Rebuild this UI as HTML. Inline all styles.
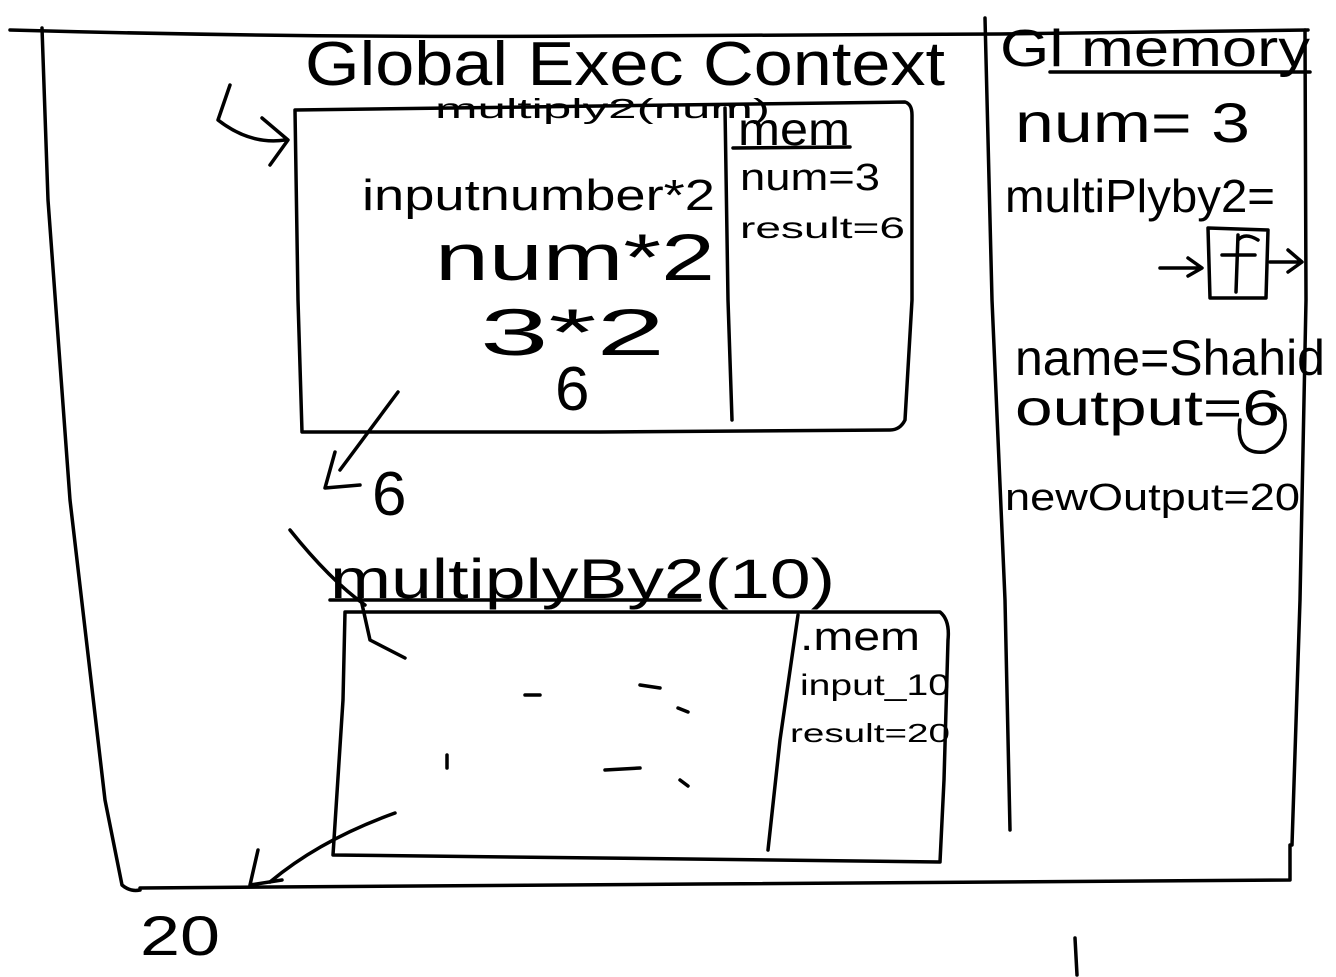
<!DOCTYPE html>
<html><head><meta charset="utf-8">
<style>
html,body{margin:0;padding:0;background:#fff;}
svg{display:block;}
text{font-family:"Liberation Sans",sans-serif;fill:#000;}
</style></head>
<body>
<svg width="1336" height="977" viewBox="0 0 1336 977" xmlns="http://www.w3.org/2000/svg">
<g fill="none" stroke="#000" stroke-width="3.5" stroke-linecap="round" stroke-linejoin="round">
<path d="M10 30 Q300 38 600 36 L1000 34 L1308 30"/>
<path d="M42 28 L48 200 L70 500 L105 800 L122 885 Q130 892 140 890"/>
<path d="M140 888 L700 884 L1290 880 L1290 845"/>
<path d="M1305 30 L1306 300 L1300 600 L1292 845"/>
<path d="M985 18 L992 300 L1005 600 L1010 830"/>
<path d="M295 110 L600 106 L905 102 Q912 104 912 115 L912 300 L905 420 Q900 430 890 430 L600 432 L302 432 L298 300 Z"/>
<path d="M725 108 L728 300 L732 420"/>
<path d="M733 148 L850 147"/>
<path d="M345 612 L600 612 L940 612 Q950 620 948 640 L944 780 L940 862 L600 858 L333 855 L343 700 Z"/>
<path d="M798 615 L780 740 L768 850"/>
<path d="M230 85 L218 120 Q250 145 285 140"/>
<path d="M262 118 L288 140 L270 165"/>
<path d="M398 392 L340 470"/>
<path d="M335 452 L325 488 L360 485"/>
<path d="M290 530 Q330 580 365 605"/>
<path d="M360 595 L370 640 L405 658"/>
<path d="M395 813 Q320 840 270 882"/>
<path d="M258 850 L250 885 L282 880"/>
<path d="M1208 228 L1268 230 L1266 298 L1210 298 Z"/>
<path d="M1160 268 L1200 268 M1188 258 L1202 268 L1188 276"/>
<path d="M1270 262 L1300 262 M1288 250 L1302 262 L1288 272"/>
<path d="M1238 235 L1236 292 M1222 255 L1255 255 M1238 240 Q1245 232 1258 240"/>
<path d="M1050 72 L1310 72"/>
<path d="M330 600 L700 600"/>
<path d="M1075 938 L1077 975"/>
<path d="M525 695 L540 695 M640 685 L660 688 M678 708 L688 712 M447 755 L447 768 M605 770 L640 768 M680 780 L688 786"/>
<path d="M1240 420 Q1235 455 1265 452 Q1290 442 1284 415 Q1274 398 1250 408"/>
</g>
<text x="305" y="85" font-size="62" textLength="640" lengthAdjust="spacingAndGlyphs">Global Exec Context</text>
<text x="1000" y="66" font-size="52" textLength="310" lengthAdjust="spacingAndGlyphs">Gl memory</text>
<text x="435" y="118" font-size="28" textLength="335" lengthAdjust="spacingAndGlyphs">multiply2(num)</text>
<text x="738" y="145" font-size="46" textLength="112" lengthAdjust="spacingAndGlyphs">mem</text>
<text x="740" y="190" font-size="38" textLength="140" lengthAdjust="spacingAndGlyphs">num=3</text>
<text x="740" y="238" font-size="30" textLength="165" lengthAdjust="spacingAndGlyphs">result=6</text>
<text x="362" y="210" font-size="44" textLength="353" lengthAdjust="spacingAndGlyphs">inputnumber*2</text>
<text x="435" y="280" font-size="66" textLength="280" lengthAdjust="spacingAndGlyphs">num*2</text>
<text x="480" y="355" font-size="66" textLength="185" lengthAdjust="spacingAndGlyphs">3*2</text>
<text x="555" y="410" font-size="62">6</text>
<text x="372" y="515" font-size="62">6</text>
<text x="330" y="598" font-size="56" textLength="505" lengthAdjust="spacingAndGlyphs">multiplyBy2(10)</text>
<text x="800" y="650" font-size="40" textLength="120" lengthAdjust="spacingAndGlyphs">.mem</text>
<text x="800" y="695" font-size="30" textLength="150" lengthAdjust="spacingAndGlyphs">input_10</text>
<text x="790" y="742" font-size="26" textLength="160" lengthAdjust="spacingAndGlyphs">result=20</text>
<text x="1015" y="142" font-size="56" textLength="235" lengthAdjust="spacingAndGlyphs">num= 3</text>
<text x="1005" y="212" font-size="46" textLength="270" lengthAdjust="spacingAndGlyphs">multiPlyby2=</text>
<text x="1015" y="375" font-size="50" textLength="310" lengthAdjust="spacingAndGlyphs">name=Shahid</text>
<text x="1015" y="425" font-size="50" textLength="265" lengthAdjust="spacingAndGlyphs">output=6</text>
<text x="1005" y="510" font-size="38" textLength="295" lengthAdjust="spacingAndGlyphs">newOutput=20</text>
<text x="140" y="955" font-size="56" textLength="80" lengthAdjust="spacingAndGlyphs">20</text>
</svg>
</body></html>
